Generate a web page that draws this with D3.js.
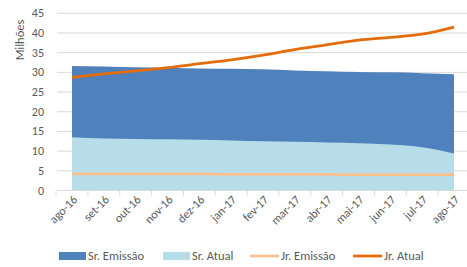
<!DOCTYPE html>
<html>
<head>
<meta charset="utf-8">
<script src="https://cdnjs.cloudflare.com/ajax/libs/d3/7.8.5/d3.min.js"></script>
<style>
  body { margin: 0; background: #fff; }
  text { font-family: Carlito, "Open Sans", sans-serif; fill: #595959; }
</style>
</head>
<body>
<script>
  // categories and series (millions)
  var months = ["ago-16","set-16","out-16","nov-16","dez-16","jan-17","fev-17","mar-17","abr-17","mai-17","jun-17","jul-17","ago-17"];
  var srEmissao = [31.6, 31.5, 31.3, 31.2, 31.0, 30.9, 30.8, 30.5, 30.3, 30.1, 30.0, 29.8, 29.5];
  var srAtual   = [13.5, 13.2, 13.1, 13.0, 12.9, 12.7, 12.5, 12.4, 12.2, 12.0, 11.7, 11.0, 9.4];
  var jrEmissao = [4.2, 4.2, 4.2, 4.2, 4.2, 4.1, 4.1, 4.1, 4.1, 4.0, 4.0, 4.0, 4.0];
  var jrAtual   = [28.7, 29.6, 30.4, 31.2, 32.2, 33.2, 34.4, 35.8, 37.0, 38.2, 38.9, 39.7, 41.5];
  var yTicks = [0, 5, 10, 15, 20, 25, 30, 35, 40, 45];

  var svg = d3.select("body").append("svg")
              .attr("width", 467)
              .attr("height", 267);

  var x = d3.scalePoint().domain(months).range([72, 454]);
  var step = x.step();
  var y = d3.scaleLinear().domain([0, 45]).range([190.5, 13.3]);

  // gridlines
  svg.append("g").selectAll("line")
     .data(yTicks.slice(1))
     .enter().append("line")
     .attr("x1", 57).attr("x2", 467)
     .attr("y1", function(d) { return y(d); })
     .attr("y2", function(d) { return y(d); })
     .attr("stroke", "#d9d9d9").attr("stroke-width", 1);

  // y labels
  svg.append("g").selectAll("text")
     .data(yTicks)
     .enter().append("text")
     .attr("x", 44)
     .attr("y", function(d) { return y(d) + 4; })
     .attr("text-anchor", "end")
     .style("font-size", "12px")
     .text(function(d) { return d; });

  svg.append("text")
     .attr("transform", "translate(24,40) rotate(-90)")
     .attr("text-anchor", "middle")
     .style("font-size", "12.5px")
     .text("Milhões");

  // areas (overlapping)
  var idx = d3.range(months.length);
  function area(vals) {
    return d3.area()
      .x(function(i) { return x(months[i]); })
      .y0(y(0))
      .y1(function(i) { return y(vals[i]); })
      .curve(d3.curveMonotoneX)(idx);
  }
  svg.append("path").attr("d", area(srEmissao)).attr("fill", "#4f81bd");
  svg.append("path").attr("d", area(srAtual)).attr("fill", "#b7dee8");

  // lines
  function line(vals) {
    return d3.line()
      .x(function(i) { return x(months[i]); })
      .y(function(i) { return y(vals[i]); })
      .curve(d3.curveMonotoneX)(idx);
  }
  svg.append("path").attr("d", line(jrEmissao)).attr("fill", "none")
     .attr("stroke", "#fac090").attr("stroke-width", 2.75);
  svg.append("path").attr("d", line(jrAtual)).attr("fill", "none")
     .attr("stroke", "#e46c0a").attr("stroke-width", 2.75);

  // x axis
  svg.append("line").attr("x1", 57).attr("x2", 467)
     .attr("y1", y(0)).attr("y2", y(0))
     .attr("stroke", "#d9d9d9");
  var tickPos = d3.range(months.length + 1).map(function(i) { return x(months[0]) - step / 2 + i * step; });
  svg.append("g").selectAll("line")
     .data(tickPos)
     .enter().append("line")
     .attr("x1", function(d) { return d; }).attr("x2", function(d) { return d; })
     .attr("y1", y(0)).attr("y2", y(0) + 5)
     .attr("stroke", "#d9d9d9");

  svg.append("g").selectAll("text")
     .data(months)
     .enter().append("text")
     .attr("transform", function(d) { return "translate(" + (x(d) + 6) + "," + (y(0) + 10) + ") rotate(-45)"; })
     .attr("text-anchor", "end")
     .style("font-size", "12px")
     .text(function(d) { return d; });

  // legend
  var legend = [
    {name: "Sr. Emissão", type: "rect", color: "#4f81bd", x: 59},
    {name: "Sr. Atual", type: "rect", color: "#b7dee8", x: 163},
    {name: "Jr. Emissão", type: "line", color: "#fac090", x: 250},
    {name: "Jr. Atual", type: "line", color: "#e46c0a", x: 353}
  ];
  var lg = svg.append("g").selectAll("g").data(legend).enter().append("g");
  lg.filter(function(d) { return d.type == "rect"; }).append("rect")
    .attr("x", function(d) { return d.x; }).attr("y", 252)
    .attr("width", 27).attr("height", 8)
    .attr("fill", function(d) { return d.color; });
  lg.filter(function(d) { return d.type == "line"; }).append("line")
    .attr("x1", function(d) { return d.x; }).attr("x2", function(d) { return d.x + 29; })
    .attr("y1", 256).attr("y2", 256)
    .attr("stroke", function(d) { return d.color; }).attr("stroke-width", 2.75);
  lg.append("text")
    .attr("x", function(d) { return d.x + (d.type == "rect" ? 29 : 31); })
    .attr("y", 260)
    .style("font-size", "12.5px")
    .text(function(d) { return d.name; });
</script>
</body>
</html>
